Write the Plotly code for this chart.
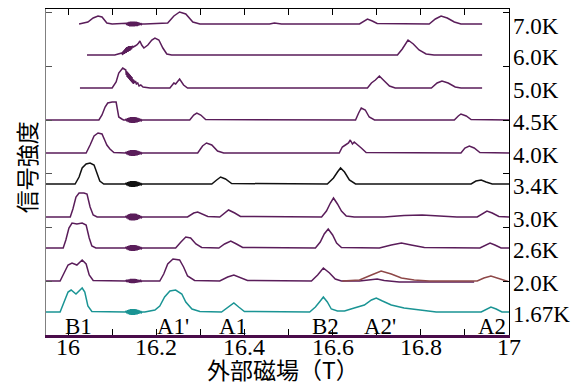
import plotly.graph_objects as go

# ---------------- data ----------------
TEMPS = ["7.0K", "6.0K", "5.0K", "4.5K", "4.0K", "3.4K", "3.0K", "2.6K", "2.0K", "1.67K"]
OFFSETS = [311, 280, 247, 215, 182, 151, 118, 87, 54, 23]
NOISE_AMP = [2.5, 0, 0, 3, 3, 3, 3.5, 3, 2, 3]

NOISE_FIELD = [16.130, 16.1317, 16.1333, 16.135, 16.1367, 16.1383, 16.140, 16.1417,
               16.1433, 16.145, 16.1467, 16.1483, 16.150, 16.1517, 16.1533, 16.155,
               16.1567, 16.1583, 16.160, 16.1617, 16.1633, 16.165, 16.1667, 16.168]
NOISE_SHAPE = [0, 0.3, -0.4, 0.6, -0.7, 0.8, -0.9, 1.0, -1.0, 1.0, -1.0, 1.0,
               -1.0, 1.0, -0.9, 0.9, -0.8, 0.7, -0.6, 0.5, -0.4, 0.3, -0.2, 0]

F_70 = [16.025, 16.045, 16.057, 16.068, 16.077, 16.088, 16.100, 16.174, 16.226, 16.240, 16.253,
        16.267, 16.283, 16.299, 16.457, 16.468, 16.484, 16.661, 16.672, 16.679, 16.690, 16.701,
        16.819, 16.833, 16.846, 16.860, 16.876, 16.891, 16.939]
I_70 = [0, 2, 6, 8, 7, 1, 0, 0, 1, 8, 12,
        10, 2, 0, 0, 1, 0, 0, 3, 5, 3, 0.5,
        0, 5, 8, 6, 2, 0, 0]

F_60 = [16.043, 16.106, 16.122, 16.124, 16.125, 16.126, 16.127, 16.128, 16.129, 16.130, 16.131,
        16.132, 16.133, 16.134, 16.135, 16.136, 16.137, 16.138, 16.139, 16.140, 16.141, 16.142,
        16.143, 16.144, 16.146, 16.148, 16.152, 16.156, 16.160, 16.163, 16.167, 16.172,
        16.181, 16.190, 16.197, 16.206, 16.215, 16.224, 16.235, 16.747, 16.758, 16.771, 16.783,
        16.796, 16.812, 16.830, 16.939]
I_60 = [0, 0, 2, 0, 4, 1, 5, 1, 6, 2, 7,
        2, 8, 3, 8, 3, 9, 4, 9, 4, 9, 5,
        9, 6, 9, 8, 9, 10, 12, 14, 10, 7,
        10, 15, 17, 15, 7, 1, 0, 0, 6, 15, 11,
        5, 1, 0, 0]

F_50 = [16.027, 16.100, 16.109, 16.115, 16.124, 16.131, 16.132, 16.133, 16.134, 16.135, 16.136,
        16.137, 16.138, 16.139, 16.140, 16.141, 16.142, 16.143, 16.144, 16.145, 16.146, 16.147,
        16.148, 16.149, 16.151, 16.153, 16.155, 16.158, 16.161, 16.165, 16.170,
        16.186, 16.231, 16.240, 16.244, 16.253, 16.262, 16.271, 16.679, 16.688, 16.697, 16.706,
        16.715, 16.729, 16.742, 16.824, 16.837, 16.848, 16.862, 16.878, 16.891, 16.939]
I_50 = [0, 0, 6, 15, 20, 18, 13, 17, 11, 16, 10,
        15, 9, 14, 8, 13, 7, 12, 6, 11, 5, 9,
        4, 8, 5, 7, 4, 5, 2, 3, 1,
        0, 0, 5, 4, 9, 3, 0, 0, 5, 8, 12,
        8, 2, 0, 0, 5, 7, 5, 1, 0, 0]

F_45 = [15.950, 16.070, 16.077, 16.084, 16.090, 16.100, 16.109, 16.111, 16.115, 16.122, 16.126,
        16.276, 16.285, 16.292, 16.301, 16.312, 16.652, 16.659, 16.665, 16.674, 16.683, 16.695,
        16.876, 16.885, 16.891, 16.903, 16.914, 17.000]
I_45 = [0, 0, 5, 13, 17, 18, 18, 12, 3, 1, 0,
        0, 5, 7, 5, 0.5, 0, 7, 12, 10, 3, 0,
        0, 4, 6, 4, 0.5, 0]

F_40 = [15.950, 16.041, 16.050, 16.059, 16.068, 16.077, 16.084, 16.088, 16.095, 16.104,
        16.294, 16.305, 16.314, 16.326, 16.339, 16.353, 16.615, 16.622, 16.629, 16.636, 16.640,
        16.645, 16.649, 16.656, 16.665, 16.676, 16.891, 16.900, 16.910, 16.921, 16.934, 17.000]
I_40 = [0, 0, 8, 17, 20, 19, 12, 8, 4, 0.5,
        0, 7, 10, 8, 2, 0, 0, 6, 8, 10, 13,
        9, 11, 8, 5, 0.5, 0, 5, 7, 5, 0.5, 0]

F_34 = [15.950, 16.016, 16.025, 16.032, 16.041, 16.050, 16.059, 16.066, 16.072, 16.081,
        16.326, 16.337, 16.346, 16.357, 16.371, 16.588, 16.602, 16.611, 16.618, 16.627, 16.638,
        16.652, 16.914, 16.925, 16.937, 16.948, 16.962, 17.000]
I_34 = [0, 0, 7, 16, 20, 21, 19, 10, 3, 0,
        0, 4, 7, 5, 0.5, 0, 6, 12, 16, 12, 4,
        0, 0, 3, 4, 2, 0, 0]

F_30 = [15.950, 16.005, 16.011, 16.018, 16.025, 16.036, 16.043, 16.050, 16.057, 16.066,
        16.271, 16.285, 16.294, 16.305, 16.317, 16.344, 16.355, 16.364, 16.378, 16.391,
        16.575, 16.586, 16.595, 16.602, 16.611, 16.620, 16.631, 16.649, 16.717, 16.762, 16.803,
        16.842, 16.882, 16.928, 16.939, 16.950, 16.962, 16.977, 17.000]
I_30 = [0, 0, 8, 20, 24, 24, 23, 10, 2, 0,
        0, 4, 5, 3, 0.5, 0, 4, 7, 4, 0.5,
        0, 6, 14, 19, 13, 6, 1, 0, 0, 1.5, 2,
        1, 0, 0, 3, 6, 4, 0.5, 0]

F_26 = [15.950, 15.989, 15.995, 16.002, 16.009, 16.020, 16.032, 16.041, 16.048, 16.054, 16.063,
        16.244, 16.256, 16.267, 16.278, 16.290, 16.303, 16.342, 16.355, 16.369, 16.382, 16.396,
        16.561, 16.572, 16.581, 16.590, 16.600, 16.609, 16.620, 16.706, 16.733, 16.756, 16.778,
        16.808, 16.934, 16.946, 16.957, 16.968, 16.982, 17.000]
I_26 = [0, 0, 8, 20, 25, 24, 25, 23, 10, 2, 0,
        0, 6, 11, 10, 4, 0.5, 0, 4, 7, 4, 0.5,
        0, 6, 14, 19, 13, 5, 0.5, 0, 3, 5, 3,
        0.5, 0, 3, 5, 3, 0, 0]

F_20 = [15.950, 15.982, 15.991, 16.000, 16.009, 16.020, 16.032, 16.041, 16.048, 16.057,
        16.208, 16.217, 16.226, 16.238, 16.253, 16.262, 16.271, 16.287, 16.344, 16.362, 16.376,
        16.389, 16.407, 16.552, 16.566, 16.579, 16.593, 16.606, 16.620, 16.661, 16.688, 16.701,
        16.717, 16.751, 16.921]
I_20 = [0, 0, 8, 16, 18, 16, 21, 17, 6, 0.5,
        0, 7, 17, 22, 21, 14, 5, 0.5, 0, 4, 6,
        4, 0.5, 0, 6, 13, 8, 2, 0, 0, 1, 2,
        0.5, -1, -1]

F_20B = [16.622, 16.661, 16.688, 16.710, 16.733, 16.756, 16.785, 16.819, 16.928, 16.943,
         16.959, 16.973, 16.989, 16.998]
I_20B = [0, 1, 6, 10, 7, 3, 1, 0, 0, 3,
         5, 3, 0, -0.5]

F_167 = [15.950, 15.982, 15.991, 16.000, 16.007, 16.018, 16.032, 16.038, 16.045, 16.054,
         16.174, 16.197, 16.208, 16.219, 16.231, 16.244, 16.258, 16.267, 16.281, 16.299,
         16.348, 16.364, 16.376, 16.387, 16.400, 16.548, 16.561, 16.572, 16.579, 16.588, 16.597,
         16.611, 16.627, 16.649, 16.672, 16.688, 16.699, 16.713, 16.733, 16.762, 16.796, 16.835,
         16.937, 16.950, 16.959, 16.971, 16.984, 17.000]
I_167 = [0, 0, 10, 20, 22, 18, 24, 20, 6, 0.5,
         0, 2, 6, 15, 21, 22, 18, 10, 3, 0.5,
         0, 5, 9, 5, 0.5, 0, 5, 11, 15, 10, 3,
         1, 1, 4, 7, 12, 14, 11, 7, 4, 2, 0,
         0, 3, 5, 3, 0, 0]

FIELDS = [F_70, F_60, F_50, F_45, F_40, F_34, F_30, F_26, F_20, F_167]
INTENS = [I_70, I_60, I_50, I_45, I_40, I_34, I_30, I_26, I_20, I_167]

PEAK_LABELS = ["B1", "A1'", "A1", "B2", "A2'", "A2"]
PEAK_FIELDS = [16.023, 16.238, 16.373, 16.584, 16.708, 16.962]

X_TICKS = [16, 16.2, 16.4, 16.6, 16.8, 17]
X_TICK_TEXT = ["16", "16.2", "16.4", "16.6", "16.8", "17"]

# ---------------- styles ----------------
PURPLE = "#5a1d5a"
COLORS = [PURPLE] * 5 + ["#111111"] + [PURPLE] * 3 + ["#1a9494"]
BROWN = "#8e4848"
SERIF = "Liberation Serif, Times New Roman, serif"
CJK = "Noto Sans CJK JP, Noto Sans CJK SC, sans-serif"

fig = go.Figure()

for name, fx, iy, off, amp, col in zip(TEMPS, FIELDS, INTENS, OFFSETS, NOISE_AMP, COLORS):
    pts = list(zip(fx, iy))
    if amp > 0:
        pts += [(nx, amp * ns) for nx, ns in zip(NOISE_FIELD, NOISE_SHAPE)]
    pts.sort(key=lambda p: p[0])
    fig.add_trace(go.Scatter(
        x=[p[0] for p in pts], y=[off + p[1] for p in pts], mode="lines",
        line=dict(color=col, width=1.5), name=name, showlegend=False, hoverinfo="skip"))
    if name == "2.0K":
        fig.add_trace(go.Scatter(
            x=F_20B, y=[off + v for v in I_20B], mode="lines",
            line=dict(color=BROWN, width=1.5), showlegend=False, hoverinfo="skip"))

# invisible trace for the mirrored top/right axes
fig.add_trace(go.Scatter(x=[16.5], y=[100], xaxis="x2", yaxis="y2", mode="markers",
                         marker=dict(opacity=0), showlegend=False, hoverinfo="skip"))

YMAX = 326
YTICK = 53.67
annotations = []
for name, off in zip(TEMPS, OFFSETS):
    annotations.append(dict(text=name, xref="paper", x=1, xshift=2, xanchor="left",
                            yref="y", y=off - 2, yanchor="middle", showarrow=False,
                            font=dict(family=SERIF, size=23, color="black")))
for lab, fx in zip(PEAK_LABELS, PEAK_FIELDS):
    annotations.append(dict(text=lab, xref="x", x=fx, xanchor="center",
                            yref="y", y=9, yanchor="middle", showarrow=False,
                            font=dict(family=SERIF, size=23, color="black")))
for tv, tt in zip(X_TICKS, X_TICK_TEXT):
    annotations.append(dict(text=tt, xref="x", x=tv, xanchor="center",
                            yref="paper", y=-0.036, yanchor="middle", showarrow=False,
                            font=dict(family=SERIF, size=24, color="black")))
annotations.append(dict(text="信号強度", xref="paper", x=-0.043, yref="paper", y=0.515,
                        textangle=-90, showarrow=False, xanchor="center", yanchor="middle",
                        font=dict(family=CJK, size=23, color="black")))
annotations.append(dict(text="外部磁場（T）", xref="paper", x=0.512, yref="paper", y=-0.164,
                        showarrow=False, xanchor="center", yanchor="bottom",
                        font=dict(family=CJK, size=23, color="black")))

fig.update_layout(
    width=583, height=388,
    margin=dict(l=46, r=74, t=9, b=53),
    paper_bgcolor="white", plot_bgcolor="white",
    annotations=annotations,
    xaxis=dict(range=[15.95, 17.0], showgrid=False, zeroline=False,
               tickvals=X_TICKS, showticklabels=False, ticks="inside", ticklen=6,
               tickcolor="black", tickwidth=1,
               minor=dict(dtick=0.1, tick0=16, ticks="inside", ticklen=6, tickcolor="black"),
               showline=True, linecolor="#4a0c4a", linewidth=3, mirror=False),
    xaxis2=dict(range=[15.95, 17.0], overlaying="x", side="top", showgrid=False,
                zeroline=False, showticklabels=False, ticks="inside", ticklen=6,
                tickcolor="black", tick0=16, dtick=0.1, showline=True, linecolor="black",
                linewidth=1),
    yaxis=dict(range=[0, YMAX], showgrid=False, zeroline=False, showticklabels=False,
               ticks="inside", ticklen=6, tickcolor="#555555", tick0=0, dtick=YTICK,
               showline=True, linecolor="#808080", linewidth=1),
    yaxis2=dict(range=[0, YMAX], overlaying="y", side="right", showgrid=False,
                zeroline=False, showticklabels=False, ticks="inside", ticklen=6,
                tickcolor="black", tick0=0, dtick=YTICK, showline=True,
                linecolor="black", linewidth=1),
)

fig.write_html("out.html")
